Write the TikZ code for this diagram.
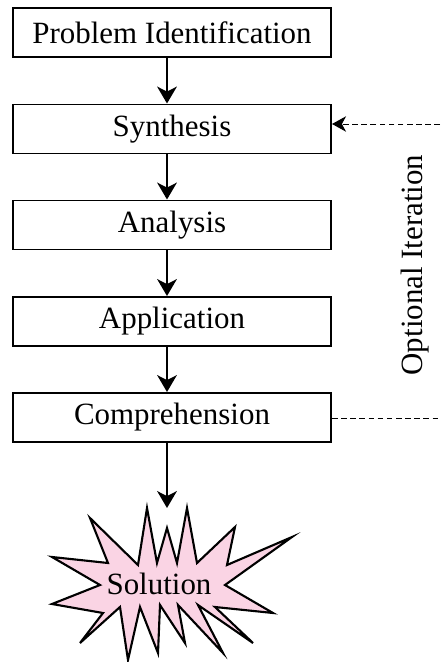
\documentclass[tikz,border=0pt]{standalone}
\usepackage{fontspec}
\setmainfont{Liberation Serif}
\usetikzlibrary{arrows.meta}
\definecolor{rose}{RGB}{250,212,228}

\begin{document}
\begin{tikzpicture}
    [x=0.025cm,y=-0.025cm,
    every node/.style={font=\fontsize{22}{26}\selectfont},%
    etape/.style={draw,line width=1.4pt,minimum width=7.95cm,
      minimum height=1.225cm,inner sep=0pt},
    fleche/.style={-{Stealth[length=12pt,width=14pt,inset=3.5pt]},
      line width=1.5pt},
    retour/.style={dash pattern=on 4pt off 2.5pt,line width=0.7pt}]
    \useasboundingbox (0,0) rectangle (440,662);
    \node[etape] (P) at (172,32.5) {Problem Identification};
    \node[etape] (S) at (172,129) {Synthesis};
    \node[etape] (A) at (172,225) {Analysis};
    \node[etape] (Ap) at (172,321.5) {Application};
    \node[etape] (C) at (172,417.5) {Comprehension};
    \node[rotate=90] (It) at (415,265) {Optional Iteration};
    
    % etoile
    \draw[fill=rose,line width=1.5pt,line join=miter] (273,613) -- (215,607)
    -- (253,643) -- (198,605) -- (223,653) -- (178,605) -- (185,643)
    -- (160,605) -- (158,653) -- (140,607) -- (128,660) -- (120,607)
    -- (80,643) -- (103,613) -- (52,604) -- (100,585) -- (52,557)
    -- (108,563) -- (90,518) -- (138,565) -- (147,508) -- (157,563)
    -- (167,528) -- (177,563) -- (187,508) -- (197,563) -- (235,527)
    -- (227,565) -- (292,537) -- (225,585) -- cycle;
    \node (Sol) at (159,584) {Solution};
    \coordinate (top) at (167,508);
    
    \draw[fleche] (P.south -| top) -- (S.north -| top);
    \draw[fleche] (S.south -| top) -- (A.north -| top);
    \draw[fleche] (A.south -| top) -- (Ap.north -| top);
    \draw[fleche] (Ap.south -| top) -- (C.north -| top);
    \draw[fleche] (C.south -| top) -- (top);
    
    \coordinate (r1) at (440,124);
    \coordinate (r2) at (440,418);
    \draw[retour,-{Stealth[length=10pt,width=11pt,inset=3pt]}] (r1)
    -- (S.east |- r1);
    \draw[retour] (C.east |- r2) -- (r2);
    
  \end{tikzpicture}
\end{document}
